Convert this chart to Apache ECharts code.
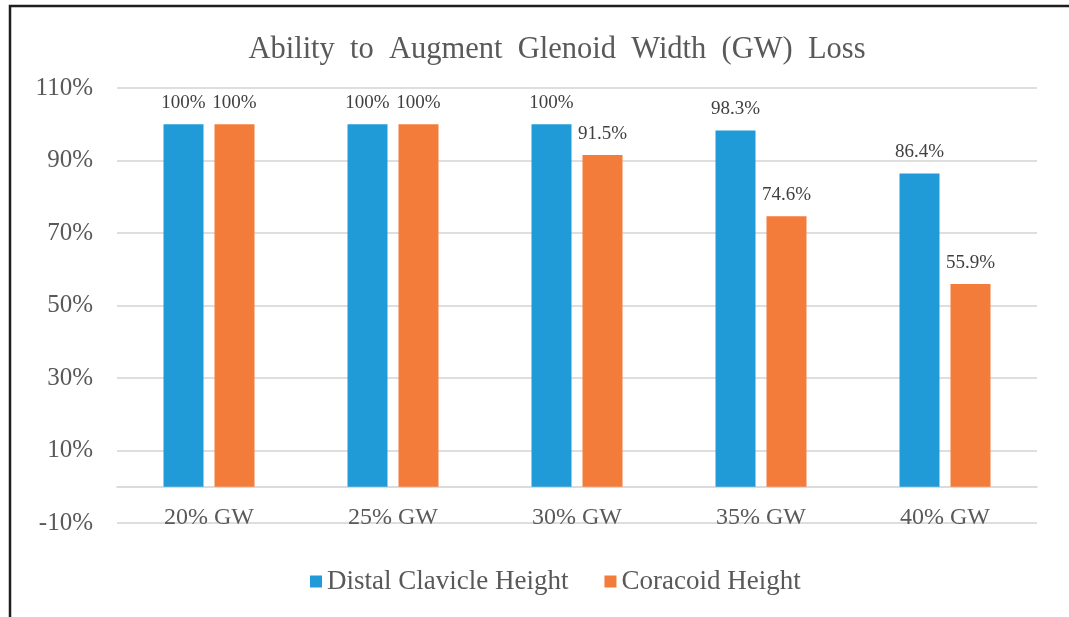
<!DOCTYPE html>
<html>
<head>
<meta charset="utf-8">
<script src="https://cdn.jsdelivr.net/npm/echarts@6/dist/echarts.min.js"></script>
<style>
  html, body { margin: 0; padding: 0; background: #ffffff; }
  #chart { width: 1069px; height: 617px; }
</style>
</head>
<body>
<div id="chart"></div>
<script>
// Glenoid width loss levels
const categories = ['20% GW', '25% GW', '30% GW', '35% GW', '40% GW'];
// Percentage of cases each graft could augment
const distalClavicle = [100, 100, 100, 98.3, 86.4];
const coracoid = [100, 100, 91.5, 74.6, 55.9];
const seriesNames = ['Distal Clavicle Height', 'Coracoid Height'];

const SERIF = '"Liberation Serif", "Times New Roman", serif';
const TEXT = '#595959';

function pctLabel(p) {
  return p.value + '%';
}

const chart = echarts.init(document.getElementById('chart'), null, { renderer: 'canvas' });

chart.setOption({
  backgroundColor: '#ffffff',
  animation: false,
  graphic: [{
    type: 'rect',
    shape: { x: 10, y: 6, width: 1200, height: 800 },
    style: { fill: 'none', stroke: '#1e1e1e', lineWidth: 2.5 },
    silent: true
  }],
  title: {
    text: 'Ability  to  Augment  Glenoid  Width  (GW)  Loss',
    left: 552,
    top: 29,
    textAlign: 'center',
    textStyle: { fontFamily: SERIF, fontSize: 30.5, fontWeight: 'normal', color: '#595959' }
  },
  legend: {
    data: seriesNames,
    left: 305,
    top: 563,
    icon: 'rect',
    itemWidth: 12,
    itemHeight: 12,
    itemGap: 36,
    textStyle: { fontFamily: SERIF, fontSize: 27, color: TEXT }
  },
  grid: { left: 117, right: 32, top: 88, bottom: 94, containLabel: false },
  xAxis: {
    type: 'category',
    data: categories,
    axisLine: { onZero: true, lineStyle: { color: '#cfcfcf', width: 1.5 } },
    axisTick: { show: false },
    axisLabel: { fontFamily: SERIF, fontSize: 24, color: TEXT, margin: -17 }
  },
  yAxis: {
    type: 'value',
    min: -10,
    max: 110,
    interval: 20,
    axisLine: { show: false },
    axisTick: { show: false },
    splitLine: { lineStyle: { color: '#d3d3d3', width: 1.5 } },
    axisLabel: { fontFamily: SERIF, fontSize: 25, color: TEXT, margin: 24, formatter: '{value}%' }
  },
  series: [
    {
      name: seriesNames[0],
      type: 'bar',
      data: distalClavicle,
      barWidth: 40,
      barGap: '27.5%',
      itemStyle: { color: '#219bd8' },
      label: { show: true, position: 'top', distance: 12, formatter: pctLabel,
               fontFamily: SERIF, fontSize: 19, color: '#404040' }
    },
    {
      name: seriesNames[1],
      type: 'bar',
      data: coracoid,
      barWidth: 40,
      itemStyle: { color: '#f47c3a' },
      label: { show: true, position: 'top', distance: 12, formatter: pctLabel,
               fontFamily: SERIF, fontSize: 19, color: '#404040' }
    }
  ]
});
</script>
</body>
</html>
